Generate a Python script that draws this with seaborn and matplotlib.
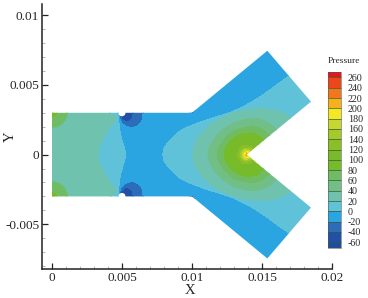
import numpy as np
import pandas as pd
import seaborn as sns
import matplotlib
matplotlib.use("Agg")
import matplotlib.pyplot as plt
import matplotlib.tri as mtri
from matplotlib.colors import ListedColormap, BoundaryNorm
from matplotlib.patches import Circle, Polygon

# isobars, upper half only (the field is mirrored in y)
x_m40 = [0.00485, 0.0049, 0.00529, 0.0057, 0.0058, 0.0058]
y_m40 = [0.0033, 0.0026, 0.00232, 0.00248, 0.0029, 0.0033]
x_m20 = [0.00478, 0.0048, 0.00486, 0.0051, 0.0057, 0.00624, 0.00648, 0.00652]
y_m20 = [0.0033, 0.0029, 0.00248, 0.00212, 0.00189, 0.00212, 0.00248, 0.0033]
x_m20_kink = [0.0098, 0.0099, 0.0101, 0.0102]
y_m20_kink = [0.0032, 0.0029, 0.0029, 0.0032]
x_0_throat = [0.00529, 0.00509, 0.00486, 0.00475, 0.00468]
y_0_throat = [0.0, 0.00077, 0.0015, 0.0026, 0.0033]
x_0_branch = [0.0079, 0.0080, 0.0084, 0.00914, 0.01034, 0.0115, 0.01271, 0.0139, 0.01507, 0.01629, 0.01688, 0.0176]
y_0_branch = [0.0, 0.0005, 0.001, 0.00176, 0.00225, 0.00265, 0.003, 0.00356, 0.00428, 0.00519, 0.00559, 0.0064]
x_20_throat = [0.00326, 0.00343, 0.00402, 0.00474, 0.00485]
y_20_throat = [0.0, 0.00079, 0.00186, 0.00268, 0.0033]
x_20_branch = [0.00998, 0.01034, 0.01116, 0.01224, 0.01343, 0.01486, 0.01605, 0.01688, 0.01719, 0.0178]
y_20_branch = [0.0, 0.00117, 0.002, 0.00272, 0.00315, 0.00332, 0.0032, 0.00279, 0.00241, 0.0018]
x_40_corner = [-0.0003, 0.0, 0.0006, 0.001, 0.00112, 0.00112]
y_40_corner = [0.0019, 0.0019, 0.00205, 0.0025, 0.0029, 0.0033]
x_40_branch = [0.01105, 0.01141, 0.01224, 0.01343, 0.01462, 0.01557, 0.01605, 0.0168]
y_40_branch = [0.0, 0.00093, 0.00189, 0.00248, 0.00265, 0.00225, 0.0017, 0.0012]
x_60_corner = [-0.0003, 0.0, 0.00055, 0.00095, 0.00107, 0.00107]
y_60_corner = [0.00197, 0.00197, 0.00212, 0.00255, 0.0029, 0.0033]
x_60_branch = [0.01171, 0.01212, 0.01295, 0.01426, 0.01507, 0.01552, 0.0163]
y_60_branch = [0.0, 0.00093, 0.00176, 0.00205, 0.00184, 0.00136, 0.0009]
x_80_corner = [-0.0003, 0.0, 0.0002, 0.0003, 0.0003]
y_80_corner = [0.0027, 0.0027, 0.0028, 0.0029, 0.0033]
x_80 = [0.01224, 0.01248, 0.01307, 0.0139, 0.01474, 0.01507, 0.0158]
y_80 = [0.0, 0.00069, 0.00128, 0.0016, 0.00146, 0.00105, 0.0005]
x_100 = [0.0128, 0.0131, 0.0139, 0.0147, 0.0151]
y_100 = [0.0, 0.0008, 0.0011, 0.0008, 0.0005]
x_120 = [0.0132, 0.0135, 0.0139, 0.01445, 0.0148]
y_120 = [0.0, 0.0006, 0.0007, 0.00044, 0.0002]
x_140 = [0.0134, 0.0136, 0.0139, 0.0143, 0.0145]
y_140 = [0.0, 0.0004, 0.0005, 0.0003, 0.0001]
x_160 = [0.01355, 0.0137, 0.0139, 0.0142, 0.0144]
y_160 = [0.0, 0.0003, 0.00035, 0.00022, 0.0001]
x_180 = [0.01365, 0.0139, 0.0141, 0.0143]
y_180 = [0.0, 0.00025, 0.00015, 0.00005]

# single readings between the isobars
x_spots = [0.0053, 0.01, 0.0065, 0.0068, 0.0078, 0.0092, 0.0115, 0.0135, 0.015, 0.0153, 0.0163,
           0.0042, 0.0042, 0.0044, 0.0046, 0.0089, 0.0092, 0.0098, 0.0108, 0.012, 0.0135, 0.015, 0.0163, 0.0178, 0.019, 0.0185,
           0.0, 0.0, 0.002, 0.002, 0.0037, -0.0003, 0.0, -0.0003, 0.0139, 0.0139]
y_spots = [0.00285, 0.00305, 0.0, 0.0015, 0.0020, 0.0027, 0.0035, 0.0045, 0.0058, 0.0076, 0.0068,
           0.0, 0.0008, 0.0016, 0.0024, 0.0, 0.0009, 0.0012, 0.0021, 0.0026, 0.00327, 0.0037, 0.004, 0.0042, 0.0037, 0.0022,
           0.0, 0.001, 0.001, 0.0032, 0.0032, 0.0005, 0.0032, 0.0032, 0.00012, 0.0]
p_spots = [-55, -45, -10, -10, -10, -10, -10, -10, -10, -10, -10,
           10, 10, 10, 10, 10, 10, 10, 10, 10, 10, 10, 10, 10, 10, 10,
           30, 30, 30, 30, 30, 30, 150, 150, 200, 210]

isobars = [
    (-40, x_m40, y_m40), (-20, x_m20, y_m20), (-20, x_m20_kink, y_m20_kink),
    (0, x_0_throat, y_0_throat), (0, x_0_branch, y_0_branch),
    (20, x_20_throat, y_20_throat), (20, x_20_branch, y_20_branch), (40, x_40_corner, y_40_corner),
    (40, x_40_branch, y_40_branch), (60, x_60_corner, y_60_corner), (60, x_60_branch, y_60_branch),
    (80, x_80_corner, y_80_corner), (80, x_80, y_80), (100, x_100, y_100), (120, x_120, y_120),
    (140, x_140, y_140), (160, x_160, y_160), (180, x_180, y_180),
]

# outline of the junction
outline_x = [0.0, 0.01, 0.01538, 0.0185, 0.0139, 0.0185, 0.01538, 0.01, 0.0]
outline_y = [0.003, 0.003, 0.00745, 0.0038, 0.0, -0.0038, -0.00745, -0.003, -0.003]
notch_x = 0.005
notch_r = 0.00025

levels = list(range(-60, 261, 20))
band_colors = ["#1f4c9f", "#2050a8", "#2b6db9", "#2ba5e2", "#60c2d8", "#6fc3ae", "#71bf86", "#70bc62", "#75bb2a",
               "#78ba2a", "#8abf28", "#a3c92a", "#c6d830", "#f4e921", "#f7b01a", "#f2761c", "#ec461a", "#e6141f"]

x_ticks = [0, 0.005, 0.01, 0.015, 0.02]
x_ticklabels = ["0", "0.005", "0.01", "0.015", "0.02"]
y_ticks = [-0.005, 0, 0.005, 0.01]
y_ticklabels = ["-0.005", "0", "0.005", "0.01"]


def round_corners(xs, ys, rounds=3):
    """Chaikin corner cutting, so the isobars are not drawn as polylines"""
    pts = np.column_stack([xs, ys])
    for _ in range(rounds):
        q = 0.75 * pts[:-1] + 0.25 * pts[1:]
        r = 0.25 * pts[:-1] + 0.75 * pts[1:]
        mid = np.empty((len(q) * 2, 2))
        mid[0::2] = q
        mid[1::2] = r
        pts = np.vstack([pts[:1], mid, pts[-1:]])
    return pts


sns.set_style("ticks")
plt.rcParams["font.family"] = ["Liberation Serif", "DejaVu Serif"]

# put the whole field together from the half that was read
frames = [pd.DataFrame({"x": x_spots + x_spots, "y": y_spots + [-v for v in y_spots], "p": p_spots + p_spots})]
for p, xs, ys in isobars:
    xs, ys = np.array(xs), np.array(ys)
    if ys[0] == 0:
        full = round_corners(np.r_[xs[:0:-1], xs], np.r_[-ys[:0:-1], ys])
    else:
        upper = round_corners(xs, ys)
        full = np.vstack([upper, upper * [1, -1]])
    frames.append(pd.DataFrame({"x": full[:, 0], "y": full[:, 1], "p": p}))
df = pd.concat(frames).drop_duplicates(["x", "y"])

W, H = 368, 298
fig = plt.figure(figsize=(W / 100, H / 100), dpi=100)
ax = fig.add_axes([42 / W, 1 - 269.3 / H, (332 - 42) / W, (269.3 - 4) / H])

cmap = ListedColormap(sns.color_palette(band_colors[1:-1]))
cmap.set_under(band_colors[0])
cmap.set_over(band_colors[-1])
norm = BoundaryNorm(levels, cmap.N)

tri = mtri.Triangulation(df["x"], df["y"])
cf = ax.tricontourf(tri, df["p"], levels=levels, cmap=cmap, norm=norm, extend="both")
clip = Polygon(np.column_stack([outline_x, outline_y]), closed=True, transform=ax.transData, fc="none", ec="none")
ax.add_patch(clip)
cf.set_clip_path(clip)
for sign in (1, -1):
    ax.add_patch(Circle((notch_x, sign * 0.003), notch_r, fc="white", ec="none", zorder=3))

ax.set_xlim(-10 / 14000, 0.02)
ax.set_ylim(-(269.3 - 154.6) / 13940, (154.6 - 4) / 13940)
ax.set_xticks(x_ticks)
ax.set_xticklabels(x_ticklabels)
ax.set_yticks(y_ticks)
ax.set_yticklabels(y_ticklabels)
ax.set_xticks(np.arange(0, 0.0201, 0.001), minor=True)
ax.set_yticks(np.arange(-0.008, 0.0101, 0.001), minor=True)
ax.tick_params(which="major", direction="in", length=4.5, width=0.9, color="#222222", labelsize=9.5, pad=2)
ax.tick_params(which="minor", direction="in", length=2.2, width=0.5, color="#999999")
ax.set_xlabel("X", fontsize=10.5)
ax.set_ylabel("Y", fontsize=10.5)
ax.xaxis.set_label_coords((190 - 42) / (332 - 42), -(284 - 269.3) / (269.3 - 4))
ax.yaxis.set_label_coords(-(42 - 17) / (332 - 42), (269.3 - 137) / (269.3 - 4))
ax.patch.set_alpha(0)
sns.despine(ax=ax)
for side in ("left", "bottom"):
    ax.spines[side].set_linewidth(1.1)
    ax.spines[side].set_color("#222222")

cax = fig.add_axes([328 / W, 1 - 247.7 / H, 12.7 / W, (247.7 - 72) / H])
cb = fig.colorbar(cf, cax=cax, extend="both", extendrect=True, extendfrac=0.033, drawedges=True, spacing="uniform")
cb.set_ticks(levels)
cb.set_ticklabels([str(v) for v in levels])
cb.ax.tick_params(length=0, labelsize=7.2, pad=5)
cb.minorticks_off()
cb.outline.set_linewidth(0.4)
cb.outline.set_edgecolor("#555555")
cb.dividers.set_color("#3a5a30")
cb.dividers.set_linewidth(0.5)
fig.text(328 / W, 1 - 61 / H, "Pressure", fontsize=6.8, va="center", ha="left")

fig.savefig("out.png", dpi=100)
